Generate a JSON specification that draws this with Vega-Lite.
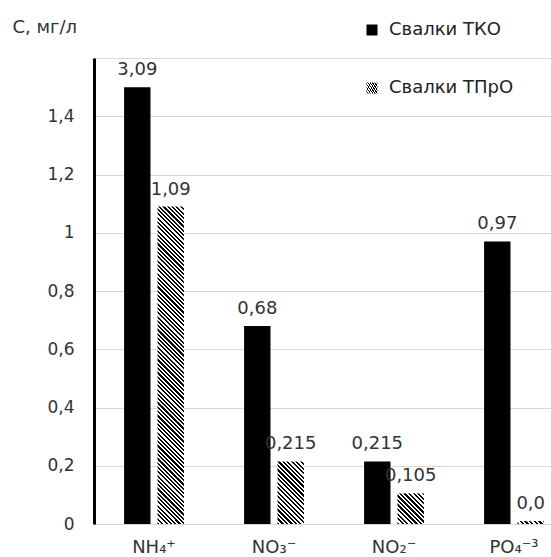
{
"$schema":"https://vega.github.io/schema/vega-lite/v6.json",
"width":457,"height":466,
"autosize":{"type":"none"},
"padding":{"left":94,"top":58,"right":0,"bottom":33},
"background":"white",
"config":{"view":{"stroke":null},"font":"DejaVu Sans"},
"data":{"values":[
{"cat":"NH₄⁺","series":"Свалки ТКО","value":1.5,"label":"3,09"},
{"cat":"NH₄⁺","series":"Свалки ТПрО","value":1.09,"label":"1,09"},
{"cat":"NO₃⁻","series":"Свалки ТКО","value":0.68,"label":"0,68"},
{"cat":"NO₃⁻","series":"Свалки ТПрО","value":0.215,"label":"0,215"},
{"cat":"NO₂⁻","series":"Свалки ТКО","value":0.215,"label":"0,215"},
{"cat":"NO₂⁻","series":"Свалки ТПрО","value":0.105,"label":"0,105"},
{"cat":"PO₄⁻³","series":"Свалки ТКО","value":0.97,"label":"0,97"},
{"cat":"PO₄⁻³","series":"Свалки ТПрО","value":0.01,"label":"0,0"}
]},
"encoding":{
"x":{"field":"cat","type":"nominal","sort":null,"scale":{"type":"band","range":[0,480],"paddingInner":0,"paddingOuter":0},
 "axis":{"title":null,"domain":false,"ticks":false,"labelAngle":0,"labelPadding":14,"labelFont":"DejaVu Sans","labelFontSize":18,"labelColor":"#333"}},
"xOffset":{"field":"series","type":"nominal","scale":{"domain":["Свалки ТКО","Свалки ТПрО"],"paddingInner":0.21,"paddingOuter":0.9}},
"y":{"field":"value","type":"quantitative","scale":{"domain":[0,1.6],"nice":false},
 "axis":{"values":[0,0.2,0.4,0.6,0.8,1,1.2,1.4,1.6],"labelExpr":"datum.value > 1.5 ? '' : replace(format(datum.value, '.1~f'), '.', ',')","ticks":false,"domainColor":"#000","domainWidth":3,"gridColor":"#d9d9d9","gridWidth":1,"labelFont":"DejaVu Sans","labelFontSize":17,"labelColor":"#333","labelPadding":20,
 "title":"С, мг/л","titleAngle":0,"titleX":-82,"titleY":-26,"titleAlign":"left","titleBaseline":"alphabetic","titleFont":"DejaVu Sans","titleFontSize":18,"titleFontWeight":"normal","titleColor":"#333"}}
},
"layer":[
{"transform":[{"filter":{"field":"series","equal":"Свалки ТКО"}}],
 "mark":{"type":"bar","stroke":null},
 "encoding":{"color":{"field":"series","type":"nominal",
  "scale":{"domain":["Свалки ТКО"],"range":["#000000"]},
  "legend":{"title":null,"orient":"none","legendX":269,"legendY":-37,"padding":0,"symbolType":"square","symbolSize":121,"symbolStrokeWidth":0,"labelFont":"DejaVu Sans","labelFontSize":18,"labelColor":"#222","labelOffset":8}}}},
{"transform":[{"filter":{"and":[{"field":"cat","equal":"NH₄⁺"},{"field":"series","equal":"Свалки ТПрО"}]}}],
 "mark":{"type":"bar","stroke":null,"fill":{"gradient":"linear","x1":0,"y1":1,"x2":0.0895,"y2":-0.0758,"stops":[
{"offset":0,"color":"#000"},{"offset":0.00625,"color":"#000"},{"offset":0.00625,"color":"#fff"},{"offset":0.0125,"color":"#fff"},
{"offset":0.0125,"color":"#000"},{"offset":0.01875,"color":"#000"},{"offset":0.01875,"color":"#fff"},{"offset":0.025,"color":"#fff"},
{"offset":0.025,"color":"#000"},{"offset":0.03125,"color":"#000"},{"offset":0.03125,"color":"#fff"},{"offset":0.0375,"color":"#fff"},
{"offset":0.0375,"color":"#000"},{"offset":0.04375,"color":"#000"},{"offset":0.04375,"color":"#fff"},{"offset":0.05,"color":"#fff"},
{"offset":0.05,"color":"#000"},{"offset":0.05625,"color":"#000"},{"offset":0.05625,"color":"#fff"},{"offset":0.0625,"color":"#fff"},
{"offset":0.0625,"color":"#000"},{"offset":0.06875,"color":"#000"},{"offset":0.06875,"color":"#fff"},{"offset":0.075,"color":"#fff"},
{"offset":0.075,"color":"#000"},{"offset":0.08125,"color":"#000"},{"offset":0.08125,"color":"#fff"},{"offset":0.0875,"color":"#fff"},
{"offset":0.0875,"color":"#000"},{"offset":0.09375,"color":"#000"},{"offset":0.09375,"color":"#fff"},{"offset":0.1,"color":"#fff"},
{"offset":0.1,"color":"#000"},{"offset":0.10625,"color":"#000"},{"offset":0.10625,"color":"#fff"},{"offset":0.1125,"color":"#fff"},
{"offset":0.1125,"color":"#000"},{"offset":0.11875,"color":"#000"},{"offset":0.11875,"color":"#fff"},{"offset":0.125,"color":"#fff"},
{"offset":0.125,"color":"#000"},{"offset":0.13125,"color":"#000"},{"offset":0.13125,"color":"#fff"},{"offset":0.1375,"color":"#fff"},
{"offset":0.1375,"color":"#000"},{"offset":0.14375,"color":"#000"},{"offset":0.14375,"color":"#fff"},{"offset":0.15,"color":"#fff"},
{"offset":0.15,"color":"#000"},{"offset":0.15625,"color":"#000"},{"offset":0.15625,"color":"#fff"},{"offset":0.1625,"color":"#fff"},
{"offset":0.1625,"color":"#000"},{"offset":0.16875,"color":"#000"},{"offset":0.16875,"color":"#fff"},{"offset":0.175,"color":"#fff"},
{"offset":0.175,"color":"#000"},{"offset":0.18125,"color":"#000"},{"offset":0.18125,"color":"#fff"},{"offset":0.1875,"color":"#fff"},
{"offset":0.1875,"color":"#000"},{"offset":0.19375,"color":"#000"},{"offset":0.19375,"color":"#fff"},{"offset":0.2,"color":"#fff"},
{"offset":0.2,"color":"#000"},{"offset":0.20625,"color":"#000"},{"offset":0.20625,"color":"#fff"},{"offset":0.2125,"color":"#fff"},
{"offset":0.2125,"color":"#000"},{"offset":0.21875,"color":"#000"},{"offset":0.21875,"color":"#fff"},{"offset":0.225,"color":"#fff"},
{"offset":0.225,"color":"#000"},{"offset":0.23125,"color":"#000"},{"offset":0.23125,"color":"#fff"},{"offset":0.2375,"color":"#fff"},
{"offset":0.2375,"color":"#000"},{"offset":0.24375,"color":"#000"},{"offset":0.24375,"color":"#fff"},{"offset":0.25,"color":"#fff"},
{"offset":0.25,"color":"#000"},{"offset":0.25625,"color":"#000"},{"offset":0.25625,"color":"#fff"},{"offset":0.2625,"color":"#fff"},
{"offset":0.2625,"color":"#000"},{"offset":0.26875,"color":"#000"},{"offset":0.26875,"color":"#fff"},{"offset":0.275,"color":"#fff"},
{"offset":0.275,"color":"#000"},{"offset":0.28125,"color":"#000"},{"offset":0.28125,"color":"#fff"},{"offset":0.2875,"color":"#fff"},
{"offset":0.2875,"color":"#000"},{"offset":0.29375,"color":"#000"},{"offset":0.29375,"color":"#fff"},{"offset":0.3,"color":"#fff"},
{"offset":0.3,"color":"#000"},{"offset":0.30625,"color":"#000"},{"offset":0.30625,"color":"#fff"},{"offset":0.3125,"color":"#fff"},
{"offset":0.3125,"color":"#000"},{"offset":0.31875,"color":"#000"},{"offset":0.31875,"color":"#fff"},{"offset":0.325,"color":"#fff"},
{"offset":0.325,"color":"#000"},{"offset":0.33125,"color":"#000"},{"offset":0.33125,"color":"#fff"},{"offset":0.3375,"color":"#fff"},
{"offset":0.3375,"color":"#000"},{"offset":0.34375,"color":"#000"},{"offset":0.34375,"color":"#fff"},{"offset":0.35,"color":"#fff"},
{"offset":0.35,"color":"#000"},{"offset":0.35625,"color":"#000"},{"offset":0.35625,"color":"#fff"},{"offset":0.3625,"color":"#fff"},
{"offset":0.3625,"color":"#000"},{"offset":0.36875,"color":"#000"},{"offset":0.36875,"color":"#fff"},{"offset":0.375,"color":"#fff"},
{"offset":0.375,"color":"#000"},{"offset":0.38125,"color":"#000"},{"offset":0.38125,"color":"#fff"},{"offset":0.3875,"color":"#fff"},
{"offset":0.3875,"color":"#000"},{"offset":0.39375,"color":"#000"},{"offset":0.39375,"color":"#fff"},{"offset":0.4,"color":"#fff"},
{"offset":0.4,"color":"#000"},{"offset":0.40625,"color":"#000"},{"offset":0.40625,"color":"#fff"},{"offset":0.4125,"color":"#fff"},
{"offset":0.4125,"color":"#000"},{"offset":0.41875,"color":"#000"},{"offset":0.41875,"color":"#fff"},{"offset":0.425,"color":"#fff"},
{"offset":0.425,"color":"#000"},{"offset":0.43125,"color":"#000"},{"offset":0.43125,"color":"#fff"},{"offset":0.4375,"color":"#fff"},
{"offset":0.4375,"color":"#000"},{"offset":0.44375,"color":"#000"},{"offset":0.44375,"color":"#fff"},{"offset":0.45,"color":"#fff"},
{"offset":0.45,"color":"#000"},{"offset":0.45625,"color":"#000"},{"offset":0.45625,"color":"#fff"},{"offset":0.4625,"color":"#fff"},
{"offset":0.4625,"color":"#000"},{"offset":0.46875,"color":"#000"},{"offset":0.46875,"color":"#fff"},{"offset":0.475,"color":"#fff"},
{"offset":0.475,"color":"#000"},{"offset":0.48125,"color":"#000"},{"offset":0.48125,"color":"#fff"},{"offset":0.4875,"color":"#fff"},
{"offset":0.4875,"color":"#000"},{"offset":0.49375,"color":"#000"},{"offset":0.49375,"color":"#fff"},{"offset":0.5,"color":"#fff"},
{"offset":0.5,"color":"#000"},{"offset":0.50625,"color":"#000"},{"offset":0.50625,"color":"#fff"},{"offset":0.5125,"color":"#fff"},
{"offset":0.5125,"color":"#000"},{"offset":0.51875,"color":"#000"},{"offset":0.51875,"color":"#fff"},{"offset":0.525,"color":"#fff"},
{"offset":0.525,"color":"#000"},{"offset":0.53125,"color":"#000"},{"offset":0.53125,"color":"#fff"},{"offset":0.5375,"color":"#fff"},
{"offset":0.5375,"color":"#000"},{"offset":0.54375,"color":"#000"},{"offset":0.54375,"color":"#fff"},{"offset":0.55,"color":"#fff"},
{"offset":0.55,"color":"#000"},{"offset":0.55625,"color":"#000"},{"offset":0.55625,"color":"#fff"},{"offset":0.5625,"color":"#fff"},
{"offset":0.5625,"color":"#000"},{"offset":0.56875,"color":"#000"},{"offset":0.56875,"color":"#fff"},{"offset":0.575,"color":"#fff"},
{"offset":0.575,"color":"#000"},{"offset":0.58125,"color":"#000"},{"offset":0.58125,"color":"#fff"},{"offset":0.5875,"color":"#fff"},
{"offset":0.5875,"color":"#000"},{"offset":0.59375,"color":"#000"},{"offset":0.59375,"color":"#fff"},{"offset":0.6,"color":"#fff"},
{"offset":0.6,"color":"#000"},{"offset":0.60625,"color":"#000"},{"offset":0.60625,"color":"#fff"},{"offset":0.6125,"color":"#fff"},
{"offset":0.6125,"color":"#000"},{"offset":0.61875,"color":"#000"},{"offset":0.61875,"color":"#fff"},{"offset":0.625,"color":"#fff"},
{"offset":0.625,"color":"#000"},{"offset":0.63125,"color":"#000"},{"offset":0.63125,"color":"#fff"},{"offset":0.6375,"color":"#fff"},
{"offset":0.6375,"color":"#000"},{"offset":0.64375,"color":"#000"},{"offset":0.64375,"color":"#fff"},{"offset":0.65,"color":"#fff"},
{"offset":0.65,"color":"#000"},{"offset":0.65625,"color":"#000"},{"offset":0.65625,"color":"#fff"},{"offset":0.6625,"color":"#fff"},
{"offset":0.6625,"color":"#000"},{"offset":0.66875,"color":"#000"},{"offset":0.66875,"color":"#fff"},{"offset":0.675,"color":"#fff"},
{"offset":0.675,"color":"#000"},{"offset":0.68125,"color":"#000"},{"offset":0.68125,"color":"#fff"},{"offset":0.6875,"color":"#fff"},
{"offset":0.6875,"color":"#000"},{"offset":0.69375,"color":"#000"},{"offset":0.69375,"color":"#fff"},{"offset":0.7,"color":"#fff"},
{"offset":0.7,"color":"#000"},{"offset":0.70625,"color":"#000"},{"offset":0.70625,"color":"#fff"},{"offset":0.7125,"color":"#fff"},
{"offset":0.7125,"color":"#000"},{"offset":0.71875,"color":"#000"},{"offset":0.71875,"color":"#fff"},{"offset":0.725,"color":"#fff"},
{"offset":0.725,"color":"#000"},{"offset":0.73125,"color":"#000"},{"offset":0.73125,"color":"#fff"},{"offset":0.7375,"color":"#fff"},
{"offset":0.7375,"color":"#000"},{"offset":0.74375,"color":"#000"},{"offset":0.74375,"color":"#fff"},{"offset":0.75,"color":"#fff"},
{"offset":0.75,"color":"#000"},{"offset":0.75625,"color":"#000"},{"offset":0.75625,"color":"#fff"},{"offset":0.7625,"color":"#fff"},
{"offset":0.7625,"color":"#000"},{"offset":0.76875,"color":"#000"},{"offset":0.76875,"color":"#fff"},{"offset":0.775,"color":"#fff"},
{"offset":0.775,"color":"#000"},{"offset":0.78125,"color":"#000"},{"offset":0.78125,"color":"#fff"},{"offset":0.7875,"color":"#fff"},
{"offset":0.7875,"color":"#000"},{"offset":0.79375,"color":"#000"},{"offset":0.79375,"color":"#fff"},{"offset":0.8,"color":"#fff"},
{"offset":0.8,"color":"#000"},{"offset":0.80625,"color":"#000"},{"offset":0.80625,"color":"#fff"},{"offset":0.8125,"color":"#fff"},
{"offset":0.8125,"color":"#000"},{"offset":0.81875,"color":"#000"},{"offset":0.81875,"color":"#fff"},{"offset":0.825,"color":"#fff"},
{"offset":0.825,"color":"#000"},{"offset":0.83125,"color":"#000"},{"offset":0.83125,"color":"#fff"},{"offset":0.8375,"color":"#fff"},
{"offset":0.8375,"color":"#000"},{"offset":0.84375,"color":"#000"},{"offset":0.84375,"color":"#fff"},{"offset":0.85,"color":"#fff"},
{"offset":0.85,"color":"#000"},{"offset":0.85625,"color":"#000"},{"offset":0.85625,"color":"#fff"},{"offset":0.8625,"color":"#fff"},
{"offset":0.8625,"color":"#000"},{"offset":0.86875,"color":"#000"},{"offset":0.86875,"color":"#fff"},{"offset":0.875,"color":"#fff"},
{"offset":0.875,"color":"#000"},{"offset":0.88125,"color":"#000"},{"offset":0.88125,"color":"#fff"},{"offset":0.8875,"color":"#fff"},
{"offset":0.8875,"color":"#000"},{"offset":0.89375,"color":"#000"},{"offset":0.89375,"color":"#fff"},{"offset":0.9,"color":"#fff"},
{"offset":0.9,"color":"#000"},{"offset":0.90625,"color":"#000"},{"offset":0.90625,"color":"#fff"},{"offset":0.9125,"color":"#fff"},
{"offset":0.9125,"color":"#000"},{"offset":0.91875,"color":"#000"},{"offset":0.91875,"color":"#fff"},{"offset":0.925,"color":"#fff"},
{"offset":0.925,"color":"#000"},{"offset":0.93125,"color":"#000"},{"offset":0.93125,"color":"#fff"},{"offset":0.9375,"color":"#fff"},
{"offset":0.9375,"color":"#000"},{"offset":0.94375,"color":"#000"},{"offset":0.94375,"color":"#fff"},{"offset":0.95,"color":"#fff"},
{"offset":0.95,"color":"#000"},{"offset":0.95625,"color":"#000"},{"offset":0.95625,"color":"#fff"},{"offset":0.9625,"color":"#fff"},
{"offset":0.9625,"color":"#000"},{"offset":0.96875,"color":"#000"},{"offset":0.96875,"color":"#fff"},{"offset":0.975,"color":"#fff"},
{"offset":0.975,"color":"#000"},{"offset":0.98125,"color":"#000"},{"offset":0.98125,"color":"#fff"},{"offset":0.9875,"color":"#fff"},
{"offset":0.9875,"color":"#000"},{"offset":0.99375,"color":"#000"},{"offset":0.99375,"color":"#fff"},{"offset":1,"color":"#fff"}]}},
 "encoding":{"opacity":{"field":"series","type":"nominal","scale":{"domain":["Свалки ТПрО"],"range":[1,1]},
  "legend":{"title":null,"orient":"none","legendX":269,"legendY":21,"padding":0,"symbolType":"square","symbolSize":121,"symbolStrokeWidth":0,"labelFont":"DejaVu Sans","labelFontSize":18,"labelColor":"#222","labelOffset":8,
   "encode":{"symbols":{"fill":{"value":{"gradient":"linear","x1":0,"y1":1,"x2":1,"y2":0,"stops":[
{"offset":0,"color":"#000"},{"offset":0.1,"color":"#000"},{"offset":0.1,"color":"#fff"},{"offset":0.2,"color":"#fff"},
{"offset":0.2,"color":"#000"},{"offset":0.3,"color":"#000"},{"offset":0.3,"color":"#fff"},{"offset":0.4,"color":"#fff"},
{"offset":0.4,"color":"#000"},{"offset":0.5,"color":"#000"},{"offset":0.5,"color":"#fff"},{"offset":0.6,"color":"#fff"},
{"offset":0.6,"color":"#000"},{"offset":0.7,"color":"#000"},{"offset":0.7,"color":"#fff"},{"offset":0.8,"color":"#fff"},
{"offset":0.8,"color":"#000"},{"offset":0.9,"color":"#000"},{"offset":0.9,"color":"#fff"},{"offset":1,"color":"#fff"}]}}}}}}}},
{"transform":[{"filter":{"and":[{"field":"cat","equal":"NO₃⁻"},{"field":"series","equal":"Свалки ТПрО"}]}}],
 "mark":{"type":"bar","stroke":null,"fill":{"gradient":"linear","x1":0,"y1":1,"x2":0.5091,"y2":-0.2071,"stops":[
{"offset":0,"color":"#000"},{"offset":0.025,"color":"#000"},{"offset":0.025,"color":"#fff"},{"offset":0.05,"color":"#fff"},
{"offset":0.05,"color":"#000"},{"offset":0.075,"color":"#000"},{"offset":0.075,"color":"#fff"},{"offset":0.1,"color":"#fff"},
{"offset":0.1,"color":"#000"},{"offset":0.125,"color":"#000"},{"offset":0.125,"color":"#fff"},{"offset":0.15,"color":"#fff"},
{"offset":0.15,"color":"#000"},{"offset":0.175,"color":"#000"},{"offset":0.175,"color":"#fff"},{"offset":0.2,"color":"#fff"},
{"offset":0.2,"color":"#000"},{"offset":0.225,"color":"#000"},{"offset":0.225,"color":"#fff"},{"offset":0.25,"color":"#fff"},
{"offset":0.25,"color":"#000"},{"offset":0.275,"color":"#000"},{"offset":0.275,"color":"#fff"},{"offset":0.3,"color":"#fff"},
{"offset":0.3,"color":"#000"},{"offset":0.325,"color":"#000"},{"offset":0.325,"color":"#fff"},{"offset":0.35,"color":"#fff"},
{"offset":0.35,"color":"#000"},{"offset":0.375,"color":"#000"},{"offset":0.375,"color":"#fff"},{"offset":0.4,"color":"#fff"},
{"offset":0.4,"color":"#000"},{"offset":0.425,"color":"#000"},{"offset":0.425,"color":"#fff"},{"offset":0.45,"color":"#fff"},
{"offset":0.45,"color":"#000"},{"offset":0.475,"color":"#000"},{"offset":0.475,"color":"#fff"},{"offset":0.5,"color":"#fff"},
{"offset":0.5,"color":"#000"},{"offset":0.525,"color":"#000"},{"offset":0.525,"color":"#fff"},{"offset":0.55,"color":"#fff"},
{"offset":0.55,"color":"#000"},{"offset":0.575,"color":"#000"},{"offset":0.575,"color":"#fff"},{"offset":0.6,"color":"#fff"},
{"offset":0.6,"color":"#000"},{"offset":0.625,"color":"#000"},{"offset":0.625,"color":"#fff"},{"offset":0.65,"color":"#fff"},
{"offset":0.65,"color":"#000"},{"offset":0.675,"color":"#000"},{"offset":0.675,"color":"#fff"},{"offset":0.7,"color":"#fff"},
{"offset":0.7,"color":"#000"},{"offset":0.725,"color":"#000"},{"offset":0.725,"color":"#fff"},{"offset":0.75,"color":"#fff"},
{"offset":0.75,"color":"#000"},{"offset":0.775,"color":"#000"},{"offset":0.775,"color":"#fff"},{"offset":0.8,"color":"#fff"},
{"offset":0.8,"color":"#000"},{"offset":0.825,"color":"#000"},{"offset":0.825,"color":"#fff"},{"offset":0.85,"color":"#fff"},
{"offset":0.85,"color":"#000"},{"offset":0.875,"color":"#000"},{"offset":0.875,"color":"#fff"},{"offset":0.9,"color":"#fff"},
{"offset":0.9,"color":"#000"},{"offset":0.925,"color":"#000"},{"offset":0.925,"color":"#fff"},{"offset":0.95,"color":"#fff"},
{"offset":0.95,"color":"#000"},{"offset":0.975,"color":"#000"},{"offset":0.975,"color":"#fff"},{"offset":1,"color":"#fff"}]}}},
{"transform":[{"filter":{"and":[{"field":"cat","equal":"NO₂⁻"},{"field":"series","equal":"Свалки ТПрО"}]}}],
 "mark":{"type":"bar","stroke":null,"fill":{"gradient":"linear","x1":0,"y1":1,"x2":0.9218,"y2":-0.0674,"stops":[
{"offset":0,"color":"#000"},{"offset":0.04,"color":"#000"},{"offset":0.04,"color":"#fff"},{"offset":0.08,"color":"#fff"},
{"offset":0.08,"color":"#000"},{"offset":0.12,"color":"#000"},{"offset":0.12,"color":"#fff"},{"offset":0.16,"color":"#fff"},
{"offset":0.16,"color":"#000"},{"offset":0.2,"color":"#000"},{"offset":0.2,"color":"#fff"},{"offset":0.24,"color":"#fff"},
{"offset":0.24,"color":"#000"},{"offset":0.28,"color":"#000"},{"offset":0.28,"color":"#fff"},{"offset":0.32,"color":"#fff"},
{"offset":0.32,"color":"#000"},{"offset":0.36,"color":"#000"},{"offset":0.36,"color":"#fff"},{"offset":0.4,"color":"#fff"},
{"offset":0.4,"color":"#000"},{"offset":0.44,"color":"#000"},{"offset":0.44,"color":"#fff"},{"offset":0.48,"color":"#fff"},
{"offset":0.48,"color":"#000"},{"offset":0.52,"color":"#000"},{"offset":0.52,"color":"#fff"},{"offset":0.56,"color":"#fff"},
{"offset":0.56,"color":"#000"},{"offset":0.6,"color":"#000"},{"offset":0.6,"color":"#fff"},{"offset":0.64,"color":"#fff"},
{"offset":0.64,"color":"#000"},{"offset":0.68,"color":"#000"},{"offset":0.68,"color":"#fff"},{"offset":0.72,"color":"#fff"},
{"offset":0.72,"color":"#000"},{"offset":0.76,"color":"#000"},{"offset":0.76,"color":"#fff"},{"offset":0.8,"color":"#fff"},
{"offset":0.8,"color":"#000"},{"offset":0.84,"color":"#000"},{"offset":0.84,"color":"#fff"},{"offset":0.88,"color":"#fff"},
{"offset":0.88,"color":"#000"},{"offset":0.92,"color":"#000"},{"offset":0.92,"color":"#fff"},{"offset":0.96,"color":"#fff"},
{"offset":0.96,"color":"#000"},{"offset":1,"color":"#000"}]}}},
{"transform":[{"filter":{"and":[{"field":"cat","equal":"PO₄⁻³"},{"field":"series","equal":"Свалки ТПрО"}]}}],
 "mark":{"type":"bar","stroke":null,"fill":{"gradient":"linear","x1":0,"y1":1,"x2":1.097,"y2":0.879,"stops":[
{"offset":0,"color":"#000"},{"offset":0.08,"color":"#000"},{"offset":0.08,"color":"#fff"},{"offset":0.16,"color":"#fff"},
{"offset":0.16,"color":"#000"},{"offset":0.24,"color":"#000"},{"offset":0.24,"color":"#fff"},{"offset":0.32,"color":"#fff"},
{"offset":0.32,"color":"#000"},{"offset":0.4,"color":"#000"},{"offset":0.4,"color":"#fff"},{"offset":0.48,"color":"#fff"},
{"offset":0.48,"color":"#000"},{"offset":0.56,"color":"#000"},{"offset":0.56,"color":"#fff"},{"offset":0.64,"color":"#fff"},
{"offset":0.64,"color":"#000"},{"offset":0.72,"color":"#000"},{"offset":0.72,"color":"#fff"},{"offset":0.8,"color":"#fff"},
{"offset":0.8,"color":"#000"},{"offset":0.88,"color":"#000"},{"offset":0.88,"color":"#fff"},{"offset":0.96,"color":"#fff"},
{"offset":0.96,"color":"#000"},{"offset":1,"color":"#000"}]}}},
{"mark":{"type":"text","dy":-12,"baseline":"alphabetic","font":"DejaVu Sans","fontSize":18,"fill":"#333"},
 "encoding":{"text":{"field":"label","type":"nominal"}}}
]
}
